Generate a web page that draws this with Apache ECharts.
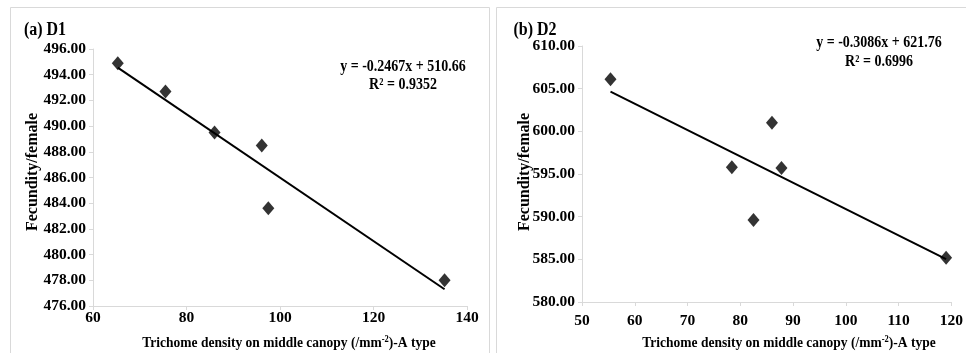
<!DOCTYPE html>
<html>
<head>
<meta charset="utf-8">
<script src="https://cdn.jsdelivr.net/npm/echarts@6/dist/echarts.min.js"></script>
<style>
html,body{margin:0;padding:0;background:#fff;}
#c{width:966px;height:353px;}
</style>
</head>
<body>
<div id="c"></div>
<script>
// ---- data ----
const d1X = [65.3, 75.5, 86.0, 96.1, 97.5, 135.2];
const d1Y = [494.9, 492.7, 489.5, 488.5, 483.6, 478.0];
const d2X = [55.4, 78.4, 82.5, 86.0, 87.8, 119.0];
const d2Y = [606.1, 595.8, 589.6, 601.0, 595.7, 585.2];
const trendSlope = [-0.2467, -0.3086];
const trendIntercept = [510.66, 621.76];
const panelTitles = ['(a) D1', '(b) D2'];
const equations = ['y = -0.2467x + 510.66', 'y = -0.3086x + 621.76'];
const rSquared = ['R² = 0.9352', 'R² = 0.6996'];
const yTitle = 'Fecundity/female';

const FONT = '"Liberation Serif", "Times New Roman", serif';

function pts(xs, ys){ return xs.map((x,i)=>[x, ys[i]]); }
function trend(xs, k){
  const lo = Math.min(...xs), hi = Math.max(...xs);
  return [[lo, trendSlope[k]*lo + trendIntercept[k]], [hi, trendSlope[k]*hi + trendIntercept[k]]];
}

const axisLineStyle = {lineStyle:{color:'#d9d9d9', width:1}};
const tickStyle = {show:true, inside:false, length:4, lineStyle:{color:'#d9d9d9'}};
const labelStyle = {color:'#000', fontFamily:FONT, fontWeight:'bold', fontSize:15.5};

function xAxis(gi, min, max, interval, margin){
  return {type:'value', gridIndex:gi, min, max, interval,
    axisLine:{show:true, ...axisLineStyle}, axisTick:tickStyle,
    splitLine:{show:false}, axisLabel:{...labelStyle, margin}};
}
function yAxis(gi, min, max, interval){
  return {type:'value', gridIndex:gi, min, max, interval,
    axisLine:{show:true, ...axisLineStyle}, axisTick:tickStyle,
    splitLine:{show:false},
    axisLabel:{...labelStyle, margin:7, formatter:v=>v.toFixed(2)}};
}

function txt(x, y, text, size, opts){
  return Object.assign({type:'text', x, y, scaleY:1.12,
    style:{text, font:'bold '+size+'px '+FONT, fill:'#000', textAlign:'center', textVerticalAlign:'middle'}}, opts||{});
}
function xTitle(cx, cy){
  return {type:'text', x:cx, y:cy, scaleY:1.12, style:{
    text:'{t|Trichome density on middle canopy (/mm}{s|-2}{t|)-A type}',
    textAlign:'center', textVerticalAlign:'middle',
    rich:{t:{fontFamily:FONT, fontWeight:'bold', fontSize:13.5, fill:'#000'},
          s:{fontFamily:FONT, fontWeight:'bold', fontSize:8.5, fill:'#000', padding:[0,0,7,0]}}}};
}

const chart = echarts.init(document.getElementById('c'), null, {renderer:'canvas'});

chart.setOption({
  backgroundColor:'#fff',
  animation:false,
  grid:[
    {left:93, top:49, width:374, height:257},
    {left:582, top:46, width:372, height:256}
  ],
  xAxis:[ xAxis(0, 60, 140, 20, 4), xAxis(1, 50, 120, 10, 11) ],
  yAxis:[ yAxis(0, 476, 496, 2), yAxis(1, 580, 610, 5) ],
  series:[
    {type:'line', xAxisIndex:0, yAxisIndex:0, data:trend(d1X,0), symbol:'none',
      lineStyle:{color:'#000', width:2}, silent:true, z:2},
    {type:'scatter', xAxisIndex:0, yAxisIndex:0, data:pts(d1X,d1Y), symbol:'diamond',
      symbolSize:[12,14], itemStyle:{color:'#000'}, z:3},
    {type:'line', xAxisIndex:1, yAxisIndex:1, data:trend(d2X,1), symbol:'none',
      lineStyle:{color:'#000', width:2}, silent:true, z:2},
    {type:'scatter', xAxisIndex:1, yAxisIndex:1, data:pts(d2X,d2Y), symbol:'diamond',
      symbolSize:[12,14], itemStyle:{color:'#000'}, z:3}
  ],
  graphic:[
    {type:'rect', shape:{x:10.5, y:7.5, width:479, height:360}, style:{fill:'none', stroke:'#d9d9d9', lineWidth:1}, silent:true},
    {type:'rect', shape:{x:496.5, y:7.5, width:480, height:360}, style:{fill:'none', stroke:'#d9d9d9', lineWidth:1}, silent:true},
    txt(45, 30, panelTitles[0], 16),
    txt(535, 30, panelTitles[1], 16),
    txt(403, 67, equations[0], 14),
    txt(403, 85, rSquared[0], 14),
    txt(879, 43, equations[1], 14),
    txt(879, 62, rSquared[1], 14),
    {type:'text', x:33, y:172, rotation:Math.PI/2, style:{text:yTitle, font:'bold 16px '+FONT, fill:'#000', textAlign:'center', textVerticalAlign:'middle'}},
    {type:'text', x:525, y:172, rotation:Math.PI/2, style:{text:yTitle, font:'bold 16px '+FONT, fill:'#000', textAlign:'center', textVerticalAlign:'middle'}},
    xTitle(289, 343),
    xTitle(789, 343)
  ]
});
</script>
</body>
</html>
